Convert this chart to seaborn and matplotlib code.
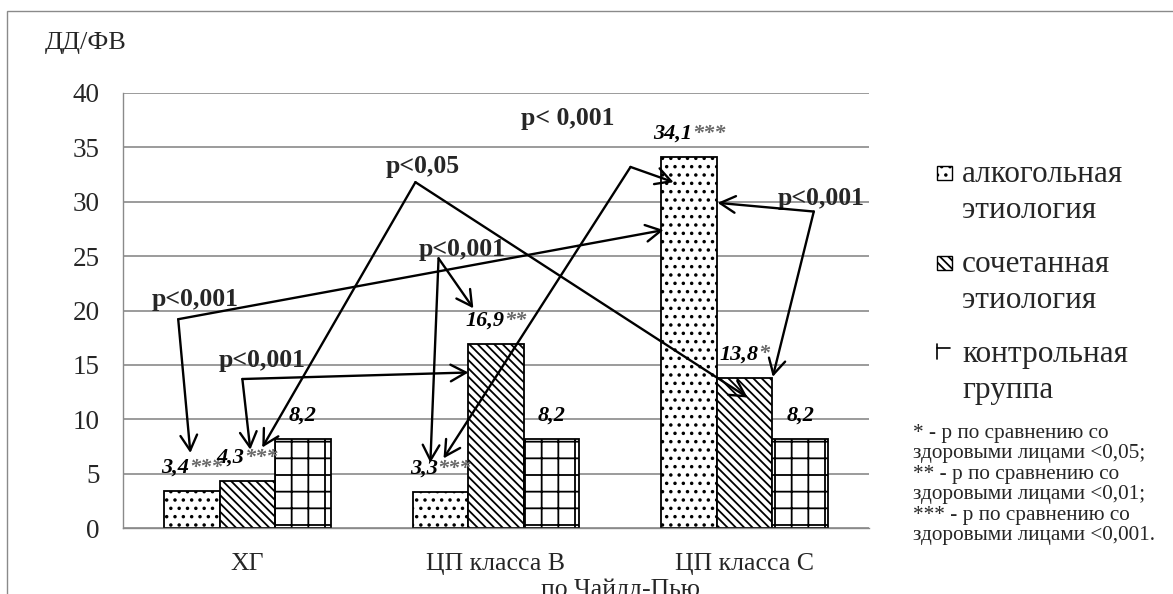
import matplotlib
matplotlib.use("Agg")
import matplotlib.pyplot as plt
import seaborn as sns
import pandas as pd
from matplotlib.patches import Rectangle
from matplotlib.lines import Line2D
from matplotlib.offsetbox import TextArea, HPacker, AnnotationBbox

# --- DATA ---
categories = ["ХГ", "ЦП класса В", "ЦП класса С"]
series = ["алкогольная\nэтиология", "сочетанная\nэтиология", "контрольная\nгруппа"]
alco = [3.4, 3.3, 34.1]
mixed = [4.3, 16.9, 13.8]
control = [8.2, 8.2, 8.2]
alco_stars = ["***", "***", "***"]
mixed_stars = ["***", "**", "*"]
control_stars = ["", "", ""]

# p-value callouts: text, text pos, vertex, arrow targets (data coords)
p_notes = [
    ("p<0,001", (-0.209, 21.0), (-0.278, 19.2), [(-0.229, 6.9), (1.674, 27.4)]),
    ("p<0,001", (0.06, 15.4), (-0.02, 13.7), [(0.012, 7.2), (0.889, 14.3)]),
    ("p<0,05", (0.704, 33.2), (0.676, 31.8), [(0.06, 7.4), (2.012, 12.0)]),
    ("p<0,001", (0.865, 25.6), (0.769, 24.8), [(0.736, 6.0), (0.909, 20.2)]),
    ("p< 0,001", (1.288, 37.7), (1.541, 33.2), [(1.714, 31.8), (0.789, 6.4)]),
    ("p<0,001", (2.306, 30.3), (2.278, 29.1), [(1.891, 29.9), (2.113, 13.9)]),
]

notes = ("* - р по сравнению со\nздоровыми лицами <0,05;\n"
         "** - р по сравнению со\nздоровыми лицами <0,01;\n"
         "*** - р по сравнению со\nздоровыми лицами <0,001.")

df = pd.DataFrame({
    "group": categories * 3,
    "series": [s for s in series for _ in categories],
    "value": alco + mixed + control,
})

# --- STYLE ---
sns.set_style("white")
plt.rcParams["font.family"] = ["Liberation Serif", "DejaVu Serif"]
plt.rcParams["hatch.linewidth"] = 1.3
plt.rcParams["hatch.color"] = "black"
GRAY = "#8a8a8a"
W, H = 1173, 594

fig = plt.figure(figsize=(W / 100, H / 100), dpi=100)
ax = fig.add_axes([123 / W, 66 / H, 746 / W, 435 / H])

sns.barplot(data=df, x="group", y="value", hue="series", order=categories,
            hue_order=series, palette=["white"] * 3, saturation=1,
            edgecolor="black", linewidth=1.3, width=0.67, legend=False, ax=ax)

hatches = ["..", "\\\\\\\\", "+"]
num_props = dict(fontsize=16, fontweight="bold", fontstyle="italic",
                 family=["Liberation Serif"], color="black")
star_props = dict(num_props, color="#6a6a6a")
for cont, h, stars in zip(ax.containers, hatches, [alco_stars, mixed_stars, control_stars]):
    for bar, s in zip(cont, stars):
        bar.set_hatch(h)
        v = bar.get_height()
        parts = [TextArea(f"{v:.1f}".replace(".", ","), textprops=num_props)]
        if s:
            parts.append(TextArea(s, textprops=star_props))
        box = HPacker(children=parts, pad=0, sep=0, align="baseline")
        ab = AnnotationBbox(box, (bar.get_x() + bar.get_width() / 2, v),
                            xybox=(0, 17), boxcoords="offset points",
                            frameon=False, box_alignment=(0.5, 0.5), pad=0)
        ax.add_artist(ab)

# --- AXES ---
ax.set_xlim(-0.5, 2.5)
ax.set_ylim(0, 40)
ax.set_yticks(range(0, 41, 5))
ax.set_xlabel("")
ax.set_ylabel("")
ax.set_axisbelow(True)
ax.yaxis.grid(True, color=GRAY, lw=1.2)
for side in ["top", "right"]:
    ax.spines[side].set_visible(False)
for side in ["left", "bottom"]:
    ax.spines[side].set_color(GRAY)
    ax.spines[side].set_linewidth(1.0)
ax.tick_params(axis="y", direction="out", length=6, color=GRAY, labelsize=19.5, pad=11)
ax.set_xticks([-0.5, 0.5, 1.5, 2.5], minor=True)
ax.tick_params(axis="x", which="minor", direction="out", length=5, color=GRAY)
ax.tick_params(axis="x", which="major", length=0, labelsize=18.5, pad=18)

ax.annotate("по Чайлд-Пью", xy=(1.5, 0), xycoords=("data", "axes fraction"),
            xytext=(0, -36.5), textcoords="offset points", ha="center", va="top",
            fontsize=18.5, annotation_clip=False)

# --- p-value arrows ---
arrow = dict(arrowstyle="->,head_length=0.55,head_width=0.3", lw=1.7,
             color="black", shrinkA=0, shrinkB=0, mutation_scale=20)
for label, tpos, vertex, targets in p_notes:
    ax.text(*tpos, label, ha="center", va="center", fontsize=18.5, fontweight="bold")
    for t in targets:
        ax.annotate("", xy=t, xytext=vertex, arrowprops=arrow)

# --- y title, frame ---
fig.text(86 / W, 1 - 43 / H, "ДД/ФВ", ha="center", va="center", fontsize=19)
fig.add_artist(Rectangle((7 / W, -0.1), 1.2, 1.1 - 11 / H, transform=fig.transFigure,
                         fill=False, edgecolor=GRAY, lw=1.0))

# --- legend ---
leg_y = [173, 263, 353]
for i, (lab, h, y) in enumerate(zip(series, hatches, leg_y)):
    if i < 2:
        fig.add_artist(Rectangle((937 / W, 1 - (y + 7) / H), 15 / W, 14 / H,
                                 transform=fig.transFigure, facecolor="white",
                                 edgecolor="black", lw=1.0, hatch=h))
    else:
        # the control swatch renders as a bare corner mark in the original
        fig.add_artist(Line2D([937 / W, 937 / W], [1 - (y - 9) / H, 1 - (y + 6) / H],
                              transform=fig.transFigure, color="black", lw=1.2))
        fig.add_artist(Line2D([937 / W, 950 / W], [1 - (y - 5) / H, 1 - (y - 5) / H],
                              transform=fig.transFigure, color="black", lw=1.2))
    fig.text(962 / W, 1 - (y - 13) / H, lab, ha="left", va="top",
             fontsize=22.5, linespacing=1.3)

fig.text(913 / W, 1 - 424 / H, notes, ha="left", va="top", fontsize=15.3, linespacing=1.1)

fig.savefig("out.png", dpi=100)
